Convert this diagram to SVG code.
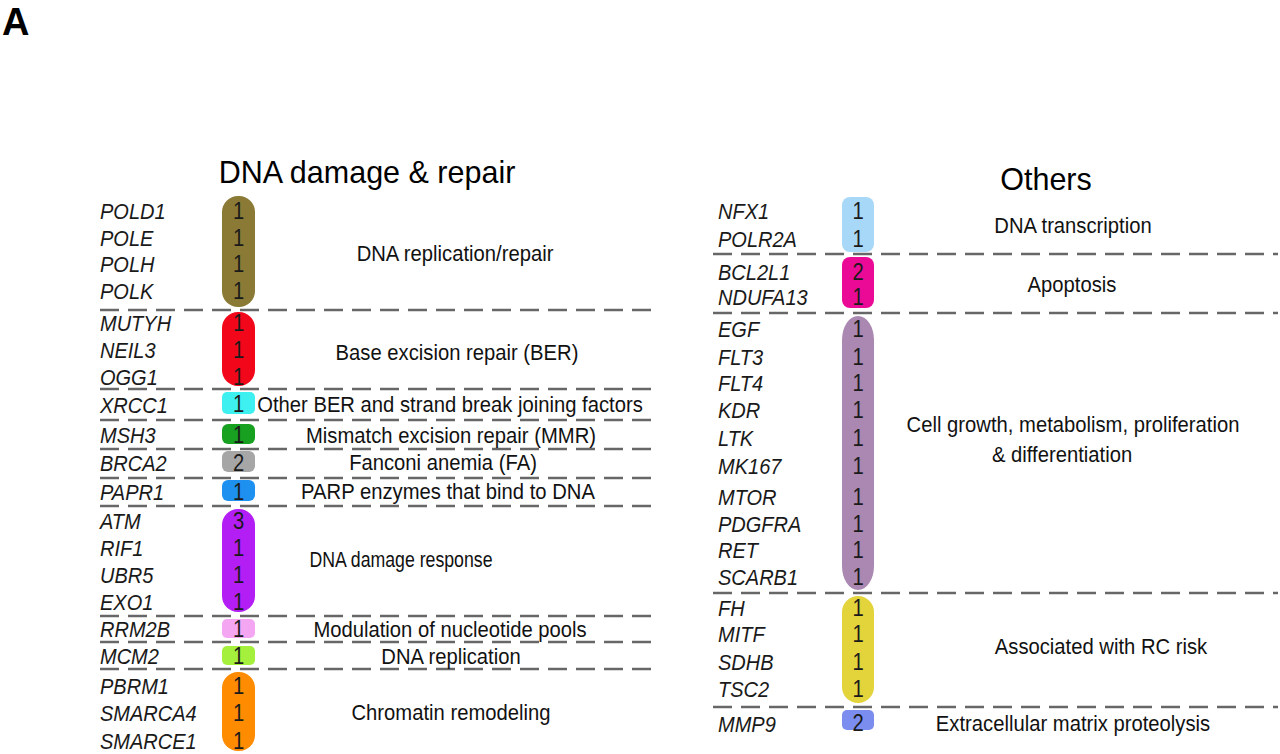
<svg xmlns="http://www.w3.org/2000/svg" width="1280" height="754" viewBox="0 0 1280 754">
<style>
.bg{fill:#fff}
.gene{font-family:"Liberation Sans",Arial,sans-serif;font-size:22px;font-style:italic;fill:#1a1a1a}
.num{font-family:"Liberation Sans",Arial,sans-serif;font-size:23px;fill:#1a1a1a;text-anchor:middle}
.cat{font-family:"Liberation Sans",Arial,sans-serif;font-size:22px;fill:#111;text-anchor:middle}
.title{font-family:"Liberation Sans",Arial,sans-serif;font-size:30.5px;fill:#000;text-anchor:middle}
.dash{stroke:#676767;stroke-width:2.5;stroke-dasharray:19 9;fill:none}
</style>
<rect class="bg" x="0" y="0" width="1280" height="754"/>
<text x="2" y="35" font-family="Liberation Sans,Arial,sans-serif" font-size="38" font-weight="bold" fill="#000">A</text>
<text class="title" x="367" y="183">DNA damage &amp; repair</text>
<text class="title" x="1046" y="190">Others</text>

<g id="connectors">
<line class="dash" x1="100" y1="310" x2="657" y2="310"/>
<line class="dash" x1="100" y1="389" x2="657" y2="389"/>
<line class="dash" x1="100" y1="420" x2="657" y2="420"/>
<line class="dash" x1="100" y1="449" x2="657" y2="449"/>
<line class="dash" x1="100" y1="478" x2="657" y2="478"/>
<line class="dash" x1="100" y1="506" x2="657" y2="506"/>
<line class="dash" x1="100" y1="616" x2="657" y2="616"/>
<line class="dash" x1="100" y1="642" x2="657" y2="642"/>
<line class="dash" x1="100" y1="669" x2="657" y2="669"/>
<line class="dash" x1="713" y1="254" x2="1278" y2="254"/>
<line class="dash" x1="713" y1="313" x2="1278" y2="313"/>
<line class="dash" x1="713" y1="593" x2="1278" y2="593"/>
<line class="dash" x1="713" y1="707" x2="1278" y2="707"/>
</g>

<g id="node-dna-rep">
<rect x="222" y="196" width="33" height="111" rx="16" fill="#8b7a36"/>
<g transform="translate(100 0) scale(0.91 1)"><text class="gene" x="0" y="219">POLD1</text><text class="gene" x="0" y="246">POLE</text><text class="gene" x="0" y="272">POLH</text><text class="gene" x="0" y="299">POLK</text></g>
<g transform="translate(238.5 0) scale(0.88 1)"><text class="num" x="0" y="219">1</text><text class="num" x="0" y="246">1</text><text class="num" x="0" y="272">1</text><text class="num" x="0" y="299">1</text></g>
<text class="cat" transform="translate(455 261) scale(0.92 1)">DNA replication/repair</text>
</g>
<g id="node-ber">
<rect x="222" y="312" width="33" height="74" rx="16" fill="#f2071a"/>
<g transform="translate(100 0) scale(0.91 1)"><text class="gene" x="0" y="331">MUTYH</text><text class="gene" x="0" y="358">NEIL3</text><text class="gene" x="0" y="385">OGG1</text></g>
<g transform="translate(238.5 0) scale(0.88 1)"><text class="num" x="0" y="331">1</text><text class="num" x="0" y="358">1</text><text class="num" x="0" y="385">1</text></g>
<text class="cat" transform="translate(457 360) scale(0.92 1)">Base excision repair (BER)</text>
</g>
<g id="node-xrcc">
<rect x="222" y="392" width="33" height="22" rx="5" fill="#3ff0f0"/>
<g transform="translate(100 0) scale(0.91 1)"><text class="gene" x="0" y="413">XRCC1</text></g>
<g transform="translate(238.5 0) scale(0.88 1)"><text class="num" x="0" y="412">1</text></g>
<text class="cat" transform="translate(450 412) scale(0.92 1)">Other BER and strand break joining factors</text>
</g>
<g id="node-mmr">
<rect x="222" y="424" width="33" height="20" rx="6" fill="#18a020"/>
<g transform="translate(100 0) scale(0.91 1)"><text class="gene" x="0" y="443">MSH3</text></g>
<g transform="translate(238.5 0) scale(0.88 1)"><text class="num" x="0" y="443">1</text></g>
<text class="cat" transform="translate(451 443) scale(0.92 1)">Mismatch excision repair (MMR)</text>
</g>
<g id="node-fa">
<rect x="222" y="451" width="33" height="21" rx="6" fill="#a6a6a6"/>
<g transform="translate(100 0) scale(0.91 1)"><text class="gene" x="0" y="471">BRCA2</text></g>
<g transform="translate(238.5 0) scale(0.88 1)"><text class="num" x="0" y="471">2</text></g>
<text class="cat" transform="translate(443 470) scale(0.92 1)">Fanconi anemia (FA)</text>
</g>
<g id="node-parp">
<rect x="222" y="480" width="33" height="21" rx="6" fill="#1e90f0"/>
<g transform="translate(100 0) scale(0.91 1)"><text class="gene" x="0" y="500">PAPR1</text></g>
<g transform="translate(238.5 0) scale(0.88 1)"><text class="num" x="0" y="500">1</text></g>
<text class="cat" transform="translate(448 499) scale(0.92 1)">PARP enzymes that bind to DNA</text>
</g>
<g id="node-ddr">
<rect x="222" y="509" width="33" height="103" rx="16" fill="#b31ef5"/>
<g transform="translate(100 0) scale(0.91 1)"><text class="gene" x="0" y="529">ATM</text><text class="gene" x="0" y="556">RIF1</text><text class="gene" x="0" y="583">UBR5</text><text class="gene" x="0" y="610">EXO1</text></g>
<g transform="translate(238.5 0) scale(0.88 1)"><text class="num" x="0" y="529">3</text><text class="num" x="0" y="556">1</text><text class="num" x="0" y="583">1</text><text class="num" x="0" y="610">1</text></g>
<text class="cat" x="401" y="567" textLength="183" lengthAdjust="spacingAndGlyphs">DNA damage response</text>
</g>
<g id="node-nuc">
<rect x="222" y="619" width="33" height="19" rx="5" fill="#f5a6f2"/>
<g transform="translate(100 0) scale(0.91 1)"><text class="gene" x="0" y="637">RRM2B</text></g>
<g transform="translate(238.5 0) scale(0.88 1)"><text class="num" x="0" y="637">1</text></g>
<text class="cat" transform="translate(450 637) scale(0.92 1)">Modulation of nucleotide pools</text>
</g>
<g id="node-dnarep2">
<rect x="222" y="646" width="33" height="19" rx="5" fill="#a4f03c"/>
<g transform="translate(100 0) scale(0.91 1)"><text class="gene" x="0" y="664">MCM2</text></g>
<g transform="translate(238.5 0) scale(0.88 1)"><text class="num" x="0" y="664">1</text></g>
<text class="cat" transform="translate(451 664) scale(0.92 1)">DNA replication</text>
</g>
<g id="node-chrom">
<rect x="222" y="672" width="33" height="79" rx="16" fill="#ff8b00"/>
<g transform="translate(100 0) scale(0.91 1)"><text class="gene" x="0" y="694">PBRM1</text><text class="gene" x="0" y="721">SMARCA4</text><text class="gene" x="0" y="749">SMARCE1</text></g>
<g transform="translate(238.5 0) scale(0.88 1)"><text class="num" x="0" y="694">1</text><text class="num" x="0" y="721">1</text><text class="num" x="0" y="749">1</text></g>
<text class="cat" transform="translate(451 720) scale(0.92 1)">Chromatin remodeling</text>
</g>

<g id="node-transcription">
<rect x="842" y="197" width="32" height="55" rx="8" fill="#a8d8f8"/>
<g transform="translate(718 0) scale(0.91 1)"><text class="gene" x="0" y="219">NFX1</text><text class="gene" x="0" y="247">POLR2A</text></g>
<g transform="translate(858 0) scale(0.88 1)"><text class="num" x="0" y="219">1</text><text class="num" x="0" y="247">1</text></g>
<text class="cat" transform="translate(1073 233) scale(0.92 1)">DNA transcription</text>
</g>
<g id="node-apoptosis">
<rect x="842" y="257" width="32" height="51" rx="8" fill="#ea0a96"/>
<g transform="translate(718 0) scale(0.91 1)"><text class="gene" x="0" y="280">BCL2L1</text><text class="gene" x="0" y="305">NDUFA13</text></g>
<g transform="translate(858 0) scale(0.88 1)"><text class="num" x="0" y="280">2</text><text class="num" x="0" y="305">1</text></g>
<text class="cat" transform="translate(1072 292) scale(0.92 1)">Apoptosis</text>
</g>
<g id="node-growth">
<rect x="842" y="316" width="32" height="274" rx="16" ry="24" fill="#aa88b2"/>
<g transform="translate(718 0) scale(0.91 1)"><text class="gene" x="0" y="337">EGF</text><text class="gene" x="0" y="365">FLT3</text><text class="gene" x="0" y="391">FLT4</text><text class="gene" x="0" y="418">KDR</text><text class="gene" x="0" y="446">LTK</text><text class="gene" x="0" y="474">MK167</text><text class="gene" x="0" y="505">MTOR</text><text class="gene" x="0" y="532">PDGFRA</text><text class="gene" x="0" y="558">RET</text><text class="gene" x="0" y="585">SCARB1</text></g>
<g transform="translate(858 0) scale(0.88 1)"><text class="num" x="0" y="337">1</text><text class="num" x="0" y="365">1</text><text class="num" x="0" y="391">1</text><text class="num" x="0" y="418">1</text><text class="num" x="0" y="446">1</text><text class="num" x="0" y="474">1</text><text class="num" x="0" y="505">1</text><text class="num" x="0" y="532">1</text><text class="num" x="0" y="558">1</text><text class="num" x="0" y="585">1</text></g>
<text class="cat" transform="translate(1073 432) scale(0.92 1)">Cell growth, metabolism, proliferation</text>
<text class="cat" transform="translate(992 462) scale(0.92 1)" style="text-anchor:start">&amp; differentiation</text>
</g>
<g id="node-rc">
<rect x="842" y="596" width="32" height="107" rx="16" fill="#e2d43a"/>
<g transform="translate(718 0) scale(0.91 1)"><text class="gene" x="0" y="616">FH</text><text class="gene" x="0" y="642">MITF</text><text class="gene" x="0" y="670">SDHB</text><text class="gene" x="0" y="697">TSC2</text></g>
<g transform="translate(858 0) scale(0.88 1)"><text class="num" x="0" y="616">1</text><text class="num" x="0" y="642">1</text><text class="num" x="0" y="670">1</text><text class="num" x="0" y="697">1</text></g>
<text class="cat" transform="translate(1101 654) scale(0.92 1)">Associated with RC risk</text>
</g>
<g id="node-ecm">
<rect x="842" y="710" width="32" height="20" rx="5" fill="#7b8ef0"/>
<g transform="translate(718 0) scale(0.91 1)"><text class="gene" x="0" y="732">MMP9</text></g>
<g transform="translate(858 0) scale(0.88 1)"><text class="num" x="0" y="731">2</text></g>
<text class="cat" transform="translate(1073 731) scale(0.92 1)">Extracellular matrix proteolysis</text>
</g>
</svg>
